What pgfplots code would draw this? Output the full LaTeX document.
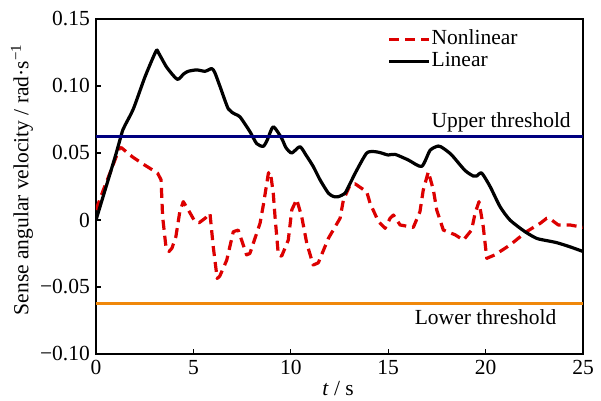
\documentclass[border=0pt]{standalone}
\usepackage{fontspec}
\setmainfont{Liberation Serif}
\usepackage{pgfplots}
\pgfplotsset{compat=1.18}
\definecolor{navyline}{RGB}{0,0,128}
\definecolor{orangeline}{RGB}{240,136,10}
\definecolor{redline}{RGB}{220,0,0}
\begin{document}
\fontsize{21.5bp}{25bp}\selectfont
\begin{tikzpicture}
\begin{axis}[
  scale only axis, width=487bp, height=335bp,
  xmin=0, xmax=25, ymin=-0.10, ymax=0.15,
  xtick={0,5,10,15,20,25}, xticklabels={0,5,10,15,20,25},
  ytick={-0.10,-0.05,0,0.05,0.10,0.15},
  yticklabels={−0.10,−0.05,0,0.05,0.10,0.15},
  tick align=inside, xtick pos=left, ytick pos=left,
  major tick length=5bp,
  axis line style={line width=1.6bp},
  tick style={line width=1.2bp, black},
  xticklabel style={inner sep=2bp, yshift=-4bp},
  yticklabel style={inner sep=2bp, xshift=-4bp},
  xlabel={\textit{t} / s},
  ylabel={Sense angular velocity / rad·s\textsuperscript{−1}},
  xlabel style={at={(axis description cs:0.497,-0.104)}, anchor=center},
  ylabel style={at={(axis description cs:-0.152,0.52)}, anchor=center},
  legend style={draw=none, fill=none, at={(axis description cs:0.598,0.973)},
    anchor=north west, inner sep=0pt, row sep=0pt,
    nodes={inner sep=1bp, text height=15bp, text depth=5bp}},
  legend cell align=left,
  legend image code/.code={\draw[#1] (0bp,0bp) -- (40bp,0bp);},
]
\addplot[redline, line width=3.2bp, dash pattern=on 10bp off 6bp, line join=round] coordinates {
(0,0.0075) (0.34,0.021) (0.77,0.037) (1.2,0.0535) (1.3,0.054) (1.88,0.047) (2.5,0.041)
(3.16,0.035) (3.34,0.030) (3.42,0.0025) (3.59,-0.020) (3.75,-0.0235) (3.9,-0.021)
(4.1,-0.0125) (4.3,0.006) (4.48,0.0137) (4.74,0.0075) (5.08,-0.0012) (5.3,-0.002)
(5.6,0.0013) (5.85,0.005) (6.02,-0.020) (6.22,-0.0436) (6.35,-0.042) (6.71,-0.030)
(7.05,-0.0087) (7.3,-0.0075) (7.73,-0.026) (7.9,-0.025) (8.42,-0.0025) (8.6,0.012)
(8.85,0.035) (8.95,0.036) (9.1,0.020) (9.19,0.0025) (9.36,-0.026) (9.53,-0.027)
(9.87,-0.015) (10.05,0.0075) (10.3,0.0154) (10.56,0.0025) (10.82,-0.0174)
(11.15,-0.0336) (11.41,-0.032) (11.93,-0.0137) (12.53,0.0013) (12.7,0.015)
(13.04,0.026) (13.3,0.027) (13.9,0.021) (14.07,0.0125) (14.5,-0.0012) (14.84,-0.0062)
(15.1,0.0013) (15.27,0.0037) (15.61,-0.0037) (16.29,-0.0055) (16.63,0.0062)
(16.8,0.0224) (17.06,0.036) (17.32,0.0224) (17.49,0.0075) (17.83,-0.0075)
(18.43,-0.011) (18.86,-0.015) (19.28,-0.0075) (19.46,0.005) (19.66,0.0137)
(19.88,-0.005) (20.06,-0.0286) (20.48,-0.026) (21.25,-0.0187) (22.1,-0.0087)
(22.8,-0.0025) (23.14,0.0013) (23.3,0.001) (23.73,-0.0037) (24.33,-0.0037) (25,-0.0055)
};
\addlegendentry{Nonlinear}
\addplot[black, line width=3.2bp, smooth, tension=0.4, line join=round] coordinates {
(0,0) (0.5,0.024) (1.0,0.048) (1.37,0.067) (1.5,0.071) (1.92,0.083) (2.52,0.107)
(3.08,0.126) (3.2,0.125) (3.63,0.114) (4.17,0.105) (4.5,0.109) (4.74,0.111)
(5.17,0.112) (5.6,0.111) (5.94,0.113) (6.1,0.110) (6.37,0.0995) (6.79,0.083)
(7.14,0.079) (7.39,0.077) (7.9,0.066) (8.25,0.057) (8.59,0.055) (8.8,0.060)
(9.1,0.0696) (9.53,0.061) (9.75,0.054) (10.05,0.050) (10.47,0.0547) (10.8,0.048)
(11.15,0.040) (11.5,0.030) (11.93,0.020) (12.2,0.0175) (12.44,0.0174) (12.78,0.020)
(13.0,0.026) (13.38,0.037) (13.9,0.050) (14.32,0.051) (14.65,0.050) (15.0,0.0485)
(15.35,0.049) (16.03,0.0448) (16.72,0.040) (17.15,0.052) (17.57,0.0552)
(17.83,0.0535) (18.26,0.0485) (18.94,0.037) (19.37,0.0328) (19.54,0.0328)
(19.8,0.035) (20.23,0.025) (20.74,0.010) (21.25,0.000) (22.02,-0.0087)
(22.62,-0.0137) (23.14,-0.0154) (23.65,-0.0169) (24.33,-0.020) (25,-0.0235)
};
\addlegendentry{Linear}
\addplot[navyline, line width=3bp, forget plot] coordinates {(0,0.0625) (25,0.0625)};
\addplot[orangeline, line width=3bp, forget plot] coordinates {(0,-0.0625) (25,-0.0625)};
\node[anchor=south, inner sep=3.5bp] at (axis cs:20.8,0.0625) {Upper threshold};
\node[anchor=north, inner sep=6bp] at (axis cs:20.0,-0.0625) {Lower threshold};
\end{axis}
\pgfresetboundingbox
\path ([shift={(-96bp,-47bp)}]current axis.south west) rectangle ([shift={(18bp,19bp)}]current axis.north east);
\end{tikzpicture}
\end{document}
